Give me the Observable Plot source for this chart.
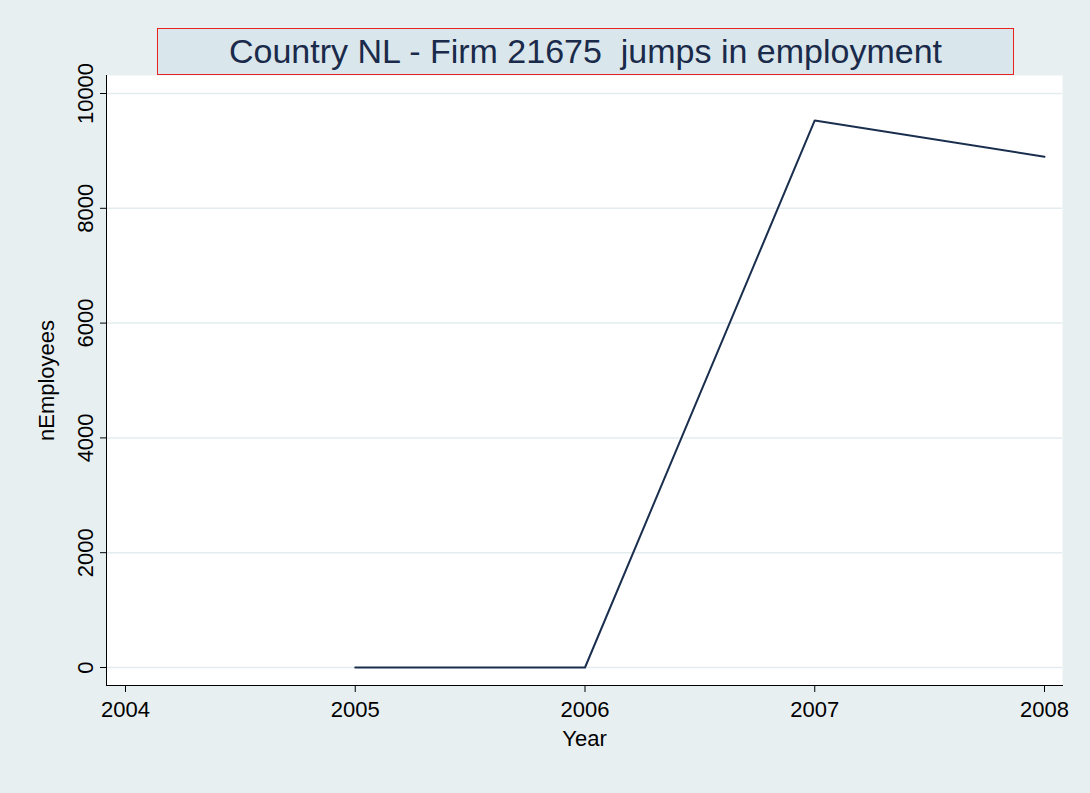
<!DOCTYPE html>
<html><head><meta charset="utf-8">
<script src="https://cdn.jsdelivr.net/npm/d3@7"></script>
<script src="https://cdn.jsdelivr.net/npm/@observablehq/plot@0.6"></script>
<style>
body{margin:0;background:#e8eff1;font-family:"Liberation Sans",Arial,sans-serif;}
#wrap{position:relative;width:1090px;height:793px;}
#title{position:absolute;left:157px;top:28px;width:855px;height:45px;background:#d9e6eb;border:1px solid #e8231f;color:#1a2a4a;font-size:34px;text-align:center;line-height:45px;box-sizing:content-box;}
</style></head><body>
<div id="wrap"><div id="title">Country NL - Firm 21675&nbsp; jumps in employment</div></div>
<script>
const years = [2005, 2006, 2007, 2008];
const employees = [0, 0, 9530, 8900];
const xTicks = [2004, 2005, 2006, 2007, 2008];
const yTicks = [0, 2000, 4000, 6000, 8000, 10000];
const data = years.map((y, i) => ({year: y, n: employees[i]}));
const chart = Plot.plot({
  width: 1090, height: 793,
  marginLeft: 106, marginRight: 28, marginTop: 75, marginBottom: 108,
  style: {background: "transparent", fontFamily: "Liberation Sans, Arial, sans-serif"},
  x: {domain: [2004, 2008], insetLeft: 19, insetRight: 18, axis: null},
  y: {domain: [0, 10000], insetTop: 18, insetBottom: 18, axis: null},
  marks: [
    Plot.frame({fill: "white", stroke: "none"}),
    Plot.gridY(yTicks, {stroke: "#e3ecef", strokeOpacity: 1, strokeWidth: 1.5}),
    Plot.axisY(yTicks, {tickSize: 6, tickRotate: -90, tickFormat: d => String(d), fontSize: 22, fill: "#000", stroke: "#000", tickPadding: 8, textAnchor: "middle", label: null}),
    Plot.axisX(xTicks, {tickSize: 7, tickFormat: d => String(d), fontSize: 22, fill: "#000", tickPadding: 9, label: null}),
    Plot.frame({anchor: "left", stroke: "#000"}),
    Plot.frame({anchor: "bottom", stroke: "#000"}),
    Plot.line(data, {x: "year", y: "n", stroke: "#1a2e4e", strokeWidth: 2}),
    Plot.text(["nEmployees"], {frameAnchor: "left", textAnchor: "middle", dx: -60, rotate: -90, fontSize: 22, fill: "#000"}),
    Plot.text(["Year"], {frameAnchor: "bottom", dy: 60, fontSize: 22, fill: "#000"})
  ]
});
document.getElementById("wrap").appendChild(chart);
chart.style.position = "absolute"; chart.style.left = "0"; chart.style.top = "0";
document.getElementById("wrap").appendChild(document.getElementById("title"));
</script>
</body></html>
